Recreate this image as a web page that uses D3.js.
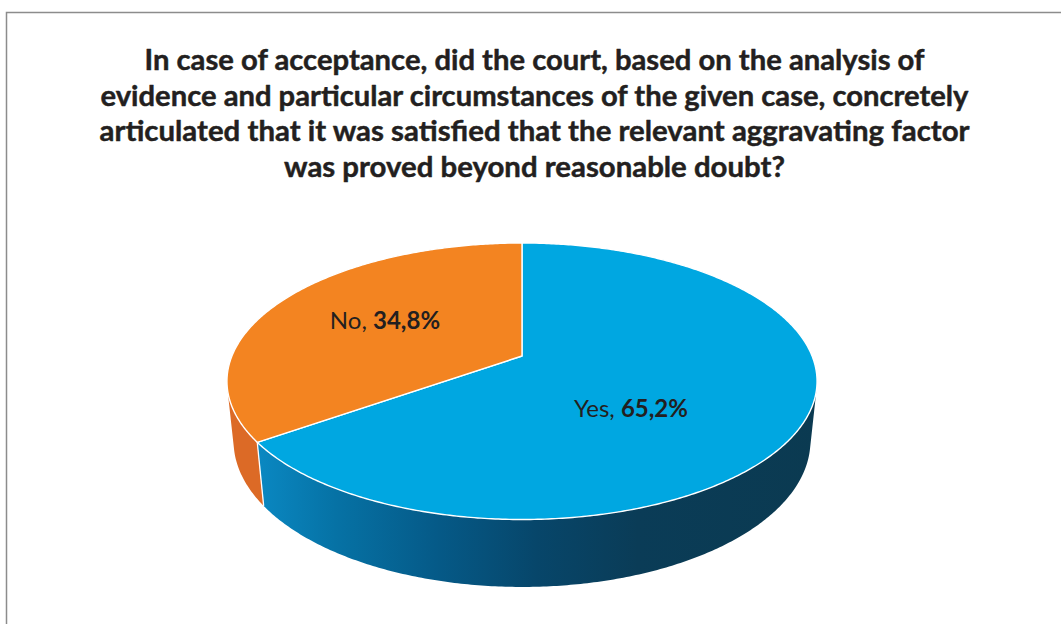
<!DOCTYPE html>
<html>
<head>
<meta charset="utf-8">
<script src="https://cdn.jsdelivr.net/npm/d3@7"></script>
<style>
  html, body { margin: 0; padding: 0; background: #ffffff; }
  svg { display: block; }
</style>
</head>
<body>
<svg id="chart" width="1061" height="624"></svg>
<script>
// ---- data ----
const categories = ["Yes", "No"];
const shares = [65.2, 34.8];
const shareLabels = ["65,2%", "34,8%"];
const titleLines = [
  "In case of acceptance, did the court, based on the analysis of",
  "evidence and particular circumstances of the given case, concretely",
  "articulated that it was satisfied that the relevant aggravating factor",
  "was proved beyond reasonable doubt?"
];

// ---- styling ----
const topColors = ["#00a7e1", "#f38421"];
const wallColors = ["url(#yesWall)", "#dc6a26"];
const textColor = "#231f20";

const W = 1061, H = 624;
const svg = d3.select("#chart");
svg.append("rect").attr("width", W).attr("height", H).attr("fill", "#ffffff");

// frame line (top and left edges)
svg.append("path")
  .attr("d", `M6.5,${H} V12.5 H${W}`)
  .attr("fill", "none")
  .attr("stroke", "#8c8c8c")
  .attr("stroke-width", 1.5);

// ---- title ----
const title = svg.append("g")
  .attr("font-family", "Lato, 'Open Sans', sans-serif")
  .attr("font-weight", 700)
  .attr("font-size", 28)
  .attr("fill", textColor)
  .attr("stroke", textColor)
  .attr("stroke-width", 0.45)
  .attr("stroke-linejoin", "round")
  .attr("text-anchor", "middle");
const titleWidths = [780, 868, 870, 501];
titleLines.forEach((line, i) => {
  const t = title.append("text")
    .attr("x", 534.5)
    .attr("y", 70 + i * 35.7)
    .text(line);
  const natural = t.node().getComputedTextLength();
  if (Math.abs(natural - titleWidths[i]) > 2) {
    t.attr("textLength", titleWidths[i]).attr("lengthAdjust", "spacingAndGlyphs");
  }
});

// ---- 3D pie: perspective camera looking down on a disc of unit radius ----
const view = { cx: 522, cy: 356, f: 1409.5, dist: 4.859, tilt: Math.asin(0.4607), depth: 0.234 };
const sT = Math.sin(view.tilt), cT = Math.cos(view.tilt);
function project(X, Y, Z) {
  const zc = view.dist - Y * sT - Z * cT;
  return [view.cx + view.f * X / zc, view.cy + view.f * (Z * sT - Y * cT) / zc];
}
// pie angle: 0 at the far side (12 o'clock), clockwise seen from above
const rim = (a, y, r = 1) => project(r * Math.sin(a), y, -r * Math.cos(a));
const sample = (a0, a1, step = 0.01) => {
  const n = Math.max(2, Math.ceil(Math.abs(a1 - a0) / step));
  return d3.range(n + 1).map(i => a0 + (a1 - a0) * i / n);
};

const arcs = d3.pie().sort(null).value(d => d)(shares);

const line = d3.line();
const defs = svg.append("defs");

// outer wall faces the camera only in this angular window
const aLo = Math.acos(-1 / (view.dist * cT));
const aHi = 2 * Math.PI - aLo;

const walls = svg.append("g");
arcs.forEach((d, i) => {
  const a0 = Math.max(d.startAngle, aLo), a1 = Math.min(d.endAngle, aHi);
  if (a1 <= a0) return;
  const top = sample(a0, a1).map(a => rim(a, 0));
  const bottom = sample(a0, a1).map(a => rim(a, -view.depth)).reverse();
  if (i === 0) {
    const xl = rim(a1, 0)[0], xr = rim(a0, 0)[0];
    const g = defs.append("linearGradient")
      .attr("id", "yesWall")
      .attr("gradientUnits", "userSpaceOnUse")
      .attr("x1", xl).attr("y1", 0).attr("x2", xr).attr("y2", 0);
    [[0, "#0a88c2"], [0.14, "#0672a5"], [0.32, "#055a88"], [0.5, "#07466a"],
     [0.68, "#0a3c57"], [1, "#0b3a51"]].forEach(([o, c]) =>
      g.append("stop").attr("offset", o).attr("stop-color", c));
  }
  walls.append("path")
    .attr("d", line(top.concat(bottom)) + "Z")
    .attr("fill", wallColors[i]);
});

// white seam where the slices meet on the wall
arcs.forEach(d => {
  const a = d.startAngle;
  if (a > aLo && a < aHi) {
    const p0 = rim(a, 0), p1 = rim(a, -view.depth);
    walls.append("line")
      .attr("x1", p0[0]).attr("y1", p0[1])
      .attr("x2", p1[0]).attr("y2", p1[1])
      .attr("stroke", "#ffffff").attr("stroke-width", 1.3);
  }
});

// top faces
const tops = svg.append("g");
arcs.forEach((d, i) => {
  const pts = [project(0, 0, 0)].concat(sample(d.startAngle, d.endAngle).map(a => rim(a, 0)));
  tops.append("path")
    .attr("d", line(pts) + "Z")
    .attr("fill", topColors[i])
    .attr("stroke", "#ffffff")
    .attr("stroke-width", 1.4)
    .attr("stroke-linejoin", "round");
});

// ---- slice labels ----
const labelShift = [19.3 * Math.PI / 180, 1.6 * Math.PI / 180];
const labelRadius = [0.51, 0.567];
const labels = svg.append("g")
  .attr("font-family", "Lato, 'Open Sans', sans-serif")
  .attr("font-size", 24)
  .attr("fill", textColor)
  .attr("text-anchor", "middle");
arcs.forEach((d, i) => {
  const mid = (d.startAngle + d.endAngle) / 2 + labelShift[i];
  const [x, y] = rim(mid, 0, labelRadius[i]);
  const t = labels.append("text").attr("x", x).attr("y", y + 8);
  t.append("tspan").text(categories[i] + ", ");
  t.append("tspan").attr("font-weight", 700).text(shareLabels[i]);
});
</script>
</body>
</html>
